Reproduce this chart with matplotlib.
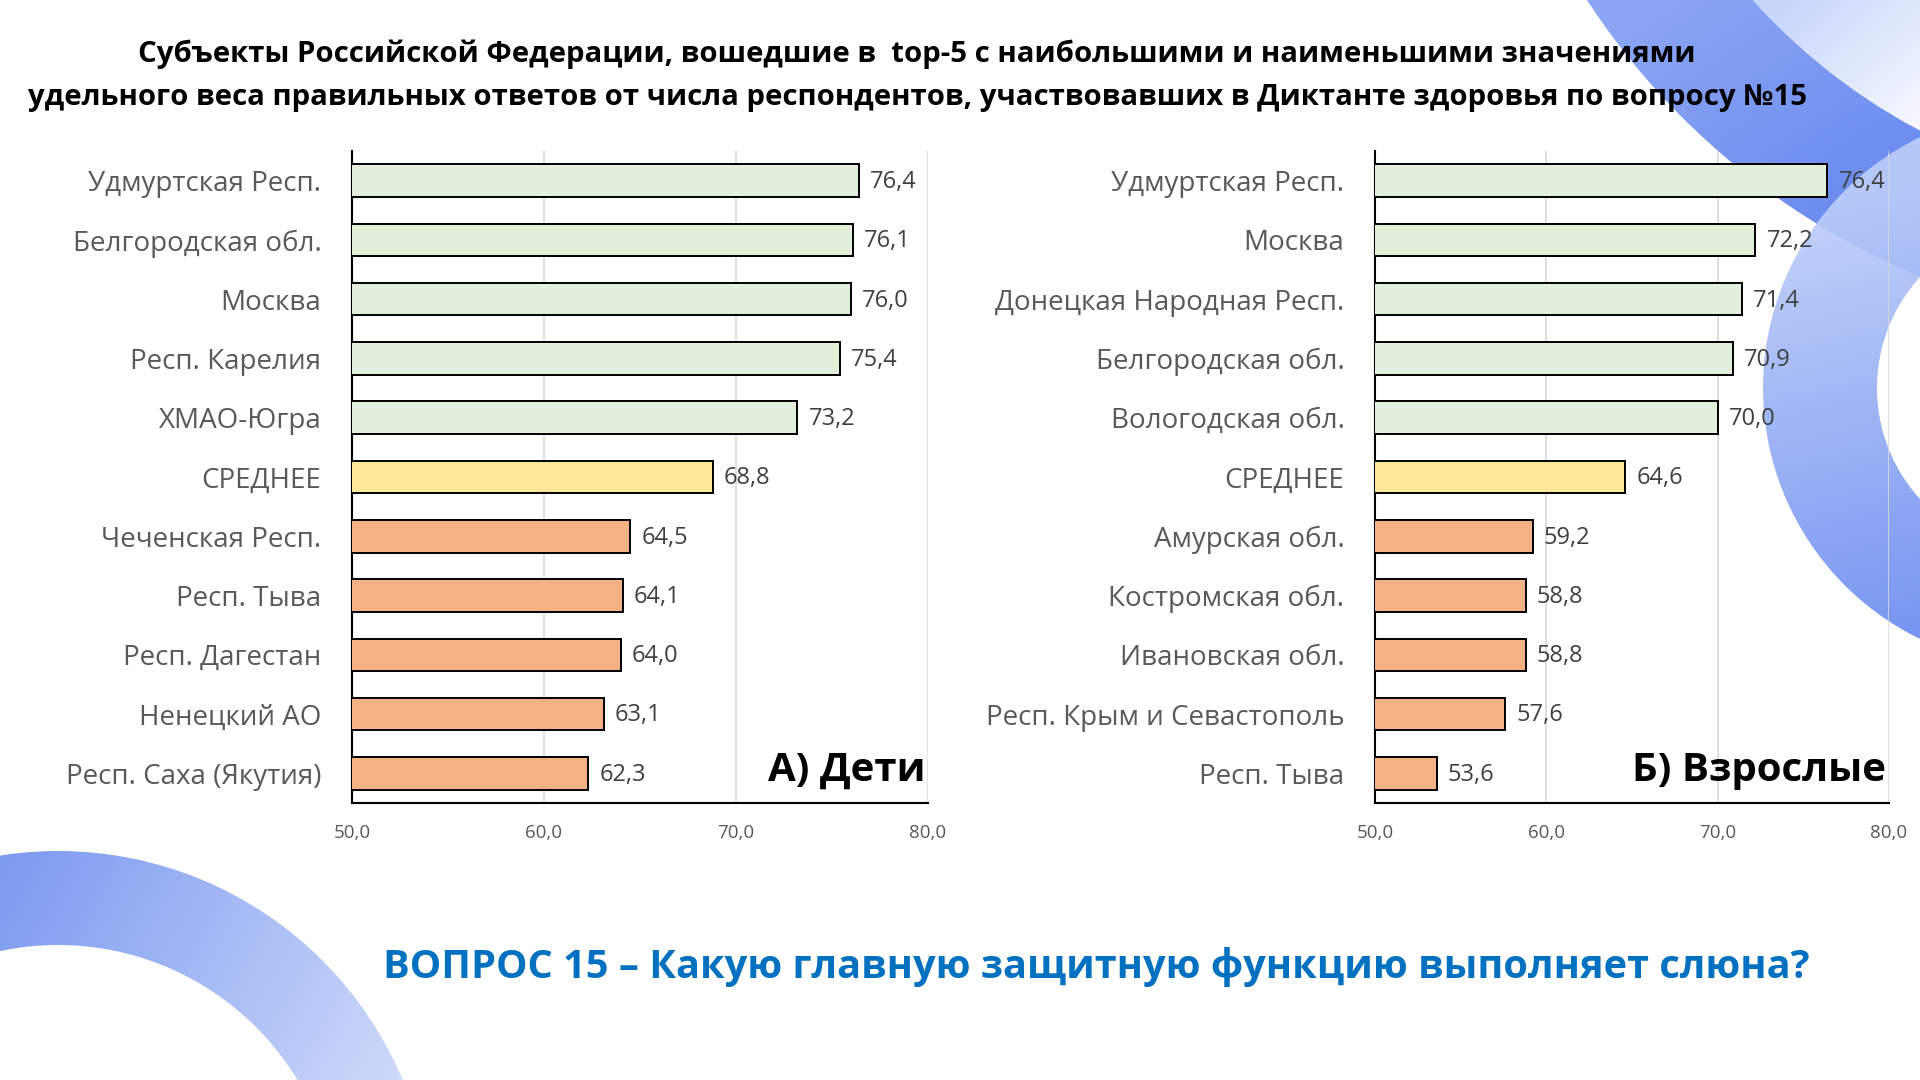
import numpy as np
import matplotlib
matplotlib.use('Agg')
import matplotlib.pyplot as plt
from matplotlib.patches import Wedge, Circle

plt.rcParams['font.family'] = ['Open Sans', 'DejaVu Sans']

# ---- data ----
kids_labels = ['Удмуртская Респ.', 'Белгородская обл.', 'Москва', 'Респ. Карелия', 'ХМАО-Югра',
               'СРЕДНЕЕ', 'Чеченская Респ.', 'Респ. Тыва', 'Респ. Дагестан', 'Ненецкий АО',
               'Респ. Саха (Якутия)']
kids_values = [76.4, 76.1, 76.0, 75.4, 73.2, 68.8, 64.5, 64.1, 64.0, 63.1, 62.3]

adult_labels = ['Удмуртская Респ.', 'Москва', 'Донецкая Народная Респ.', 'Белгородская обл.',
                'Вологодская обл.', 'СРЕДНЕЕ', 'Амурская обл.', 'Костромская обл.',
                'Ивановская обл.', 'Респ. Крым и Севастополь', 'Респ. Тыва']
adult_values = [76.4, 72.2, 71.4, 70.9, 70.0, 64.6, 59.2, 58.8, 58.8, 57.6, 53.6]

x_ticks = [50, 60, 70, 80]
title_1 = 'Субъекты Российской Федерации, вошедшие в  top-5 с наибольшими и наименьшими значениями'
title_2 = 'удельного веса правильных ответов от числа респондентов, участвовавших в Диктанте здоровья по вопросу №15'
question = 'ВОПРОС 15 – Какую главную защитную функцию выполняет слюна?'

GREEN = '#E2EFDA'
YELLOW = '#FFE699'
ORANGE = '#F4B183'
W, H = 1920, 1080

fig = plt.figure(figsize=(19.2, 10.8), dpi=100)
fig.patch.set_facecolor('white')

# ---- background rings ----
bg = fig.add_axes([0, 0, 1, 1], zorder=0)
bg.set_xlim(0, W)
bg.set_ylim(H, 0)
bg.axis('off')


def grad_fill(shape, p0, p1, c0, c1, alpha=1.0):
    gx, gy = np.meshgrid(np.linspace(0, W, 480), np.linspace(0, H, 270))
    d = np.array(p1, float) - np.array(p0, float)
    t = ((gx - p0[0]) * d[0] + (gy - p0[1]) * d[1]) / (d @ d)
    t = np.clip(t, 0, 1)[..., None]
    c0 = np.array(matplotlib.colors.to_rgb(c0))
    c1 = np.array(matplotlib.colors.to_rgb(c1))
    img = c0 * (1 - t) + c1 * t
    im = bg.imshow(img, extent=(0, W, H, 0), aspect='auto', interpolation='bilinear', alpha=alpha)
    im.set_clip_path(shape)


def ring(center, r_out, r_in):
    return Wedge(center, r_out, 0, 360, width=r_out - r_in, transform=bg.transData)


# light inside of the upper ring
grad_fill(Circle((2200, -400), 600, transform=bg.transData), (1790, 0), (1910, 130), '#c8d6fa', '#f6f8fe')
grad_fill(ring((2200, -400), 732, 600), (1880, 250), (1700, -20), '#6688ef', '#8aa5f3')
grad_fill(ring((2042, 388), 279, 165), (1800, 220), (1900, 640), '#bccdf9', '#6a8cf0', alpha=0.92)
grad_fill(ring((58, 1225), 374, 280), (0, 850), (420, 1080), '#7b99f0', '#d0dcfa')


# ---- panels ----
def panel(rect, labels, values, name):
    ax = fig.add_axes(rect, zorder=2)
    ax.set_facecolor('none')
    y = np.arange(len(values))
    colors = [GREEN] * 5 + [YELLOW] + [ORANGE] * 5
    ax.barh(y, values, height=0.55, color=colors, edgecolor='black', linewidth=1.4, zorder=3)
    ax.set_xlim(50, 80)
    ax.set_ylim(10.5, -0.5)
    ax.set_xticks(x_ticks)
    ax.set_xticklabels([f'{t:.1f}'.replace('.', ',') for t in x_ticks])
    ax.set_yticks(y)
    ax.set_yticklabels(labels)
    ax.grid(axis='x', color='#d9d9d9', linewidth=1.2)
    ax.set_axisbelow(True)
    for s in ['top', 'right']:
        ax.spines[s].set_visible(False)
    for s in ['left', 'bottom']:
        ax.spines[s].set_color('black')
        ax.spines[s].set_linewidth(1.5)
    ax.tick_params(axis='x', length=0, pad=15, labelsize=13.5, labelcolor='#595959')
    ax.tick_params(axis='y', length=0, pad=22, labelsize=20, labelcolor='#595959')
    for i, v in enumerate(values):
        ax.annotate(f'{v:.1f}'.replace('.', ','), (v, i), xytext=(8, -1), textcoords='offset points',
                    va='center', ha='left', fontsize=17, color='#404040', zorder=4)
    ax.text(0.995, 0.05, name, transform=ax.transAxes, ha='right', va='center',
            fontsize=29, fontweight='bold', color='black', zorder=4)
    return ax


bottom = 1 - 803 / H
height = (803 - 151) / H
panel([352 / W, bottom, (928 - 352) / W, height], kids_labels, kids_values, 'А) Дети')
panel([1375 / W, bottom, (1889 - 1375) / W, height], adult_labels, adult_values, 'Б) Взрослые')

# ---- texts ----
fig.text(917 / W, 1 - 54 / H, title_1, ha='center', va='center', fontsize=21.2,
         fontweight='bold', color='black')
fig.text(917 / W, 1 - 97 / H, title_2, ha='center', va='center', fontsize=21.2,
         fontweight='bold', color='black')
fig.text(1096 / W, 1 - 967 / H, question, ha='center', va='center', fontsize=28.6,
         fontweight='bold', color='#0070C0')

fig.savefig('out.png', dpi=100)
